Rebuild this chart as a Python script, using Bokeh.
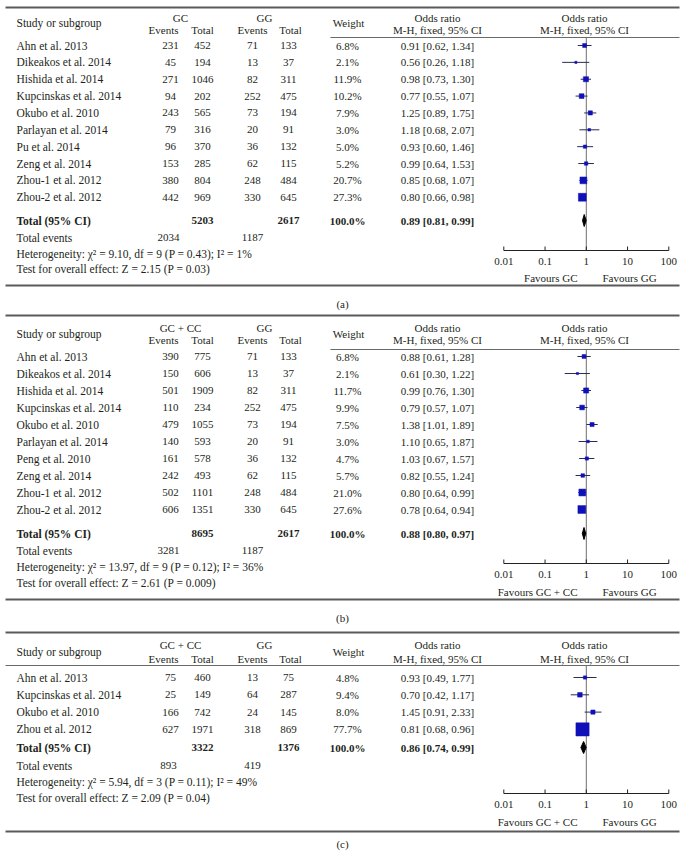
from bokeh.plotting import figure
from bokeh.models import Range1d, LogScale, ColumnDataSource
from bokeh.core.properties import value
from bokeh.embed import file_html
from bokeh.resources import INLINE

# ---------------- data ----------------
A_STUDY = ["Ahn et al. 2013", "Dikeakos et al. 2014", "Hishida et al. 2014", "Kupcinskas et al. 2014",
           "Okubo et al. 2010", "Parlayan et al. 2014", "Pu et al. 2014", "Zeng et al. 2014",
           "Zhou-1 et al. 2012", "Zhou-2 et al. 2012"]
A_EXP_EV = [231, 45, 271, 94, 243, 79, 96, 153, 380, 442]
A_EXP_TOT = [452, 194, 1046, 202, 565, 316, 370, 285, 804, 969]
A_CTL_EV = [71, 13, 82, 252, 73, 20, 36, 62, 248, 330]
A_CTL_TOT = [133, 37, 311, 475, 194, 91, 132, 115, 484, 645]
A_WEIGHT = [6.8, 2.1, 11.9, 10.2, 7.9, 3.0, 5.0, 5.2, 20.7, 27.3]
A_OR = [0.91, 0.56, 0.98, 0.77, 1.25, 1.18, 0.93, 0.99, 0.85, 0.80]
A_LO = [0.62, 0.26, 0.73, 0.55, 0.89, 0.68, 0.60, 0.64, 0.68, 0.66]
A_HI = [1.34, 1.18, 1.30, 1.07, 1.75, 2.07, 1.46, 1.53, 1.07, 0.98]
A_TOTALS = [5203, 2617]
A_EVENTS = [2034, 1187]
A_POOLED = [0.89, 0.81, 0.99]
A_HET = "Heterogeneity: χ² = 9.10, df = 9 (P = 0.43); I² = 1%"
A_TEST = "Test for overall effect: Z = 2.15 (P = 0.03)"

B_STUDY = ["Ahn et al. 2013", "Dikeakos et al. 2014", "Hishida et al. 2014", "Kupcinskas et al. 2014",
           "Okubo et al. 2010", "Parlayan et al. 2014", "Peng et al. 2010", "Zeng et al. 2014",
           "Zhou-1 et al. 2012", "Zhou-2 et al. 2012"]
B_EXP_EV = [390, 150, 501, 110, 479, 140, 161, 242, 502, 606]
B_EXP_TOT = [775, 606, 1909, 234, 1055, 593, 578, 493, 1101, 1351]
B_CTL_EV = [71, 13, 82, 252, 73, 20, 36, 62, 248, 330]
B_CTL_TOT = [133, 37, 311, 475, 194, 91, 132, 115, 484, 645]
B_WEIGHT = [6.8, 2.1, 11.7, 9.9, 7.5, 3.0, 4.7, 5.7, 21.0, 27.6]
B_OR = [0.88, 0.61, 0.99, 0.79, 1.38, 1.10, 1.03, 0.82, 0.80, 0.78]
B_LO = [0.61, 0.30, 0.76, 0.57, 1.01, 0.65, 0.67, 0.55, 0.64, 0.64]
B_HI = [1.28, 1.22, 1.30, 1.07, 1.89, 1.87, 1.57, 1.24, 0.99, 0.94]
B_TOTALS = [8695, 2617]
B_EVENTS = [3281, 1187]
B_POOLED = [0.88, 0.80, 0.97]
B_HET = "Heterogeneity: χ² = 13.97, df = 9 (P = 0.12); I² = 36%"
B_TEST = "Test for overall effect: Z = 2.61 (P = 0.009)"

C_STUDY = ["Ahn et al. 2013", "Kupcinskas et al. 2014", "Okubo et al. 2010", "Zhou et al. 2012"]
C_EXP_EV = [75, 25, 166, 627]
C_EXP_TOT = [460, 149, 742, 1971]
C_CTL_EV = [13, 64, 24, 318]
C_CTL_TOT = [75, 287, 145, 869]
C_WEIGHT = [4.8, 9.4, 8.0, 77.7]
C_OR = [0.93, 0.70, 1.45, 0.81]
C_LO = [0.49, 0.42, 0.91, 0.68]
C_HI = [1.77, 1.17, 2.33, 0.96]
C_TOTALS = [3322, 1376]
C_EVENTS = [893, 419]
C_POOLED = [0.86, 0.74, 0.99]
C_HET = "Heterogeneity: χ² = 5.94, df = 3 (P = 0.11); I² = 49%"
C_TEST = "Test for overall effect: Z = 2.09 (P = 0.04)"

TOTAL_WEIGHT = "100.0%"
EXP_LABELS = ["GC", "GC + CC", "GC + CC"]
CTL_LABEL = "GG"
PANEL_LABELS = ["(a)", "(b)", "(c)"]
TICKS = [0.01, 0.1, 1, 10, 100]
TICK_LABELS = ["0.01", "0.1", "1", "10", "100"]

# ---------------- layout ----------------
W, H = 685, 851
X0, Y0 = 0, 0
AX_L, AX_R = 503.3, 668.3          # page x of 0.01 and 100
DEC = (AX_R - AX_L) / 4.0
LOG_LO = -2 - (AX_L - X0) / DEC
LOG_HI = 2 + (X0 + W - AX_R) / DEC
LINE_L, LINE_R = 5, 679

FONT = value("Liberation Serif")
TXT = "#231f20"
SQ = "#1010b8"
CI_COL = "#2b2b55"

p = figure(width=W, height=H, output_backend="svg", toolbar_location=None,
           x_range=Range1d(X0, X0 + W), y_range=Range1d(Y0 + H, Y0),
           min_border=0, x_axis_location=None, y_axis_location=None)
p.extra_x_ranges = {"log": Range1d(10 ** LOG_LO, 10 ** LOG_HI)}
p.extra_x_scales = {"log": LogScale()}
p.grid.visible = False
p.outline_line_color = None
p.background_fill_color = "white"
p.border_fill_color = "white"

texts = {}


def T(x, y, s, align="left", style="normal", rng="default", size="11px"):
    key = (align, style, rng, size)
    d = texts.setdefault(key, {"x": [], "y": [], "t": []})
    d["x"].append(x)
    d["y"].append(y)
    d["t"].append(s)


BIG = "11.5px"

LAY = [
    dict(top=7, grp=17, hdr=22, sub=29, hline=37, hx0=330, row0=45, step=16.86, total=220, te=237,
         het=253, test=268, axis=250, tlab=261, fav=277, bottom=285, label=303),
    dict(top=315, grp=327, hdr=333, sub=339.5, hline=349, hx0=330, row0=356, step=17.0, total=533, te=550,
         het=566, test=582, axis=563, tlab=574, fav=591, bottom=599, label=617),
    dict(top=632, grp=644, hdr=651, sub=658, hline=665, hx0=LINE_L, row0=677, step=17.3, total=747, te=765,
         het=781, test=797, axis=793, tlab=804, fav=821, bottom=831, label=843),
]

PANELS = [
    (A_STUDY, A_EXP_EV, A_EXP_TOT, A_CTL_EV, A_CTL_TOT, A_WEIGHT, A_OR, A_LO, A_HI, A_TOTALS, A_EVENTS, A_POOLED, A_HET, A_TEST),
    (B_STUDY, B_EXP_EV, B_EXP_TOT, B_CTL_EV, B_CTL_TOT, B_WEIGHT, B_OR, B_LO, B_HI, B_TOTALS, B_EVENTS, B_POOLED, B_HET, B_TEST),
    (C_STUDY, C_EXP_EV, C_EXP_TOT, C_CTL_EV, C_CTL_TOT, C_WEIGHT, C_OR, C_LO, C_HI, C_TOTALS, C_EVENTS, C_POOLED, C_HET, C_TEST),
]

XC = dict(name=16, eev=170, etot=202, cev=252, ctot=288, w=347, ort=437, ofor=584)

for k, (study, eev, etot, cev, ctot, wt, orr, lo, hi, tots, evs, pooled, het, test) in enumerate(PANELS):
    L = LAY[k]
    # rules
    p.segment(x0=[LINE_L], x1=[LINE_R], y0=[L["top"]], y1=[L["top"]], line_color="#5a5a5a", line_width=2)
    p.segment(x0=[L["hx0"]], x1=[LINE_R], y0=[L["hline"]], y1=[L["hline"]], line_color="#6a6a6a", line_width=1.2)
    p.segment(x0=[LINE_L], x1=[LINE_R], y0=[L["bottom"]], y1=[L["bottom"]], line_color="#5a5a5a", line_width=2)
    # headers
    T(XC["name"], L["hdr"], "Study or subgroup", size=BIG)
    T(180, L["grp"], EXP_LABELS[k], "center")
    T(163, L["sub"], "Events", "center")
    T(202, L["sub"], "Total", "center")
    T(264, L["grp"], CTL_LABEL, "center")
    T(252, L["sub"], "Events", "center")
    T(290, L["sub"], "Total", "center")
    T(348, L["hdr"], "Weight", "center")
    T(XC["ort"], L["grp"], "Odds ratio", "center")
    T(XC["ort"], L["sub"], "M-H, fixed, 95% CI", "center")
    T(XC["ofor"], L["grp"], "Odds ratio", "center")
    T(XC["ofor"], L["sub"], "M-H, fixed, 95% CI", "center")
    ys = [L["row0"] + i * L["step"] for i in range(len(study))]
    for i, y in enumerate(ys):
        T(XC["name"], y, study[i], size=BIG)
        T(XC["eev"], y, str(eev[i]), "center")
        T(XC["etot"], y, str(etot[i]), "center")
        T(XC["cev"], y, str(cev[i]), "center")
        T(XC["ctot"], y, str(ctot[i]), "center")
        T(XC["w"], y, f"{wt[i]:.1f}%", "center")
        T(XC["ort"], y, f"{orr[i]:.2f} [{lo[i]:.2f}, {hi[i]:.2f}]", "center")
    # totals
    T(XC["name"], L["total"], "Total (95% CI)", "left", "bold", size=BIG)
    T(XC["etot"], L["total"], str(tots[0]), "center", "bold")
    T(XC["ctot"], L["total"], str(tots[1]), "center", "bold")
    T(XC["w"], L["total"], TOTAL_WEIGHT, "center", "bold")
    T(XC["ort"], L["total"], f"{pooled[0]:.2f} [{pooled[1]:.2f}, {pooled[2]:.2f}]", "center", "bold")
    T(XC["name"], L["te"], "Total events", size=BIG)
    T(168, L["te"], str(evs[0]), "center")
    T(XC["cev"], L["te"], str(evs[1]), "center")
    T(XC["name"], L["het"], het, size=BIG)
    T(XC["name"], L["test"], test, size=BIG)
    T(342, L["label"], PANEL_LABELS[k], "center")
    T(577, L["fav"], "Favours " + EXP_LABELS[k], "right")
    T(602, L["fav"], "Favours " + CTL_LABEL, "left")

    # forest plot
    p.segment(x0=[1], x1=[1], y0=[L["hline"]], y1=[L["axis"]], x_range_name="log",
              line_color="#6f6f6f", line_width=1)
    src = ColumnDataSource(dict(orr=orr, lo=lo, hi=hi, y=ys,
                                size=[1.5 * (w ** 0.5) for w in wt]))
    p.segment(x0="lo", x1="hi", y0="y", y1="y", source=src, x_range_name="log",
              line_color=CI_COL, line_width=1)
    p.scatter(x="orr", y="y", size="size", marker="square", source=src, x_range_name="log",
              fill_color=SQ, line_color=SQ, line_width=0.5)
    yt = L["total"]
    p.patch(x=[pooled[1], pooled[0], pooled[2], pooled[0]], y=[yt, yt - 6, yt, yt + 6],
            x_range_name="log", fill_color="black", line_color="black", line_width=1)
    # axis
    p.segment(x0=[TICKS[0]], x1=[TICKS[-1]], y0=[L["axis"]], y1=[L["axis"]], x_range_name="log",
              line_color="#222222", line_width=1)
    p.segment(x0=TICKS, x1=TICKS, y0=[L["axis"]] * len(TICKS), y1=[L["axis"] - 4] * len(TICKS),
              x_range_name="log", line_color="#222222", line_width=1)
    for t, tl in zip(TICKS, TICK_LABELS):
        T(t, L["tlab"], tl, "center", "normal", "log")

for (align, style, rng, size), d in texts.items():
    kw = {}
    if rng == "log":
        kw["x_range_name"] = "log"
    p.text(x=d["x"], y=d["y"], text=d["t"], text_align=align, text_baseline="middle",
           text_font=FONT, text_font_size=size, text_font_style=style, text_color=TXT, **kw)

open("out.html", "w").write(file_html(p, INLINE))
